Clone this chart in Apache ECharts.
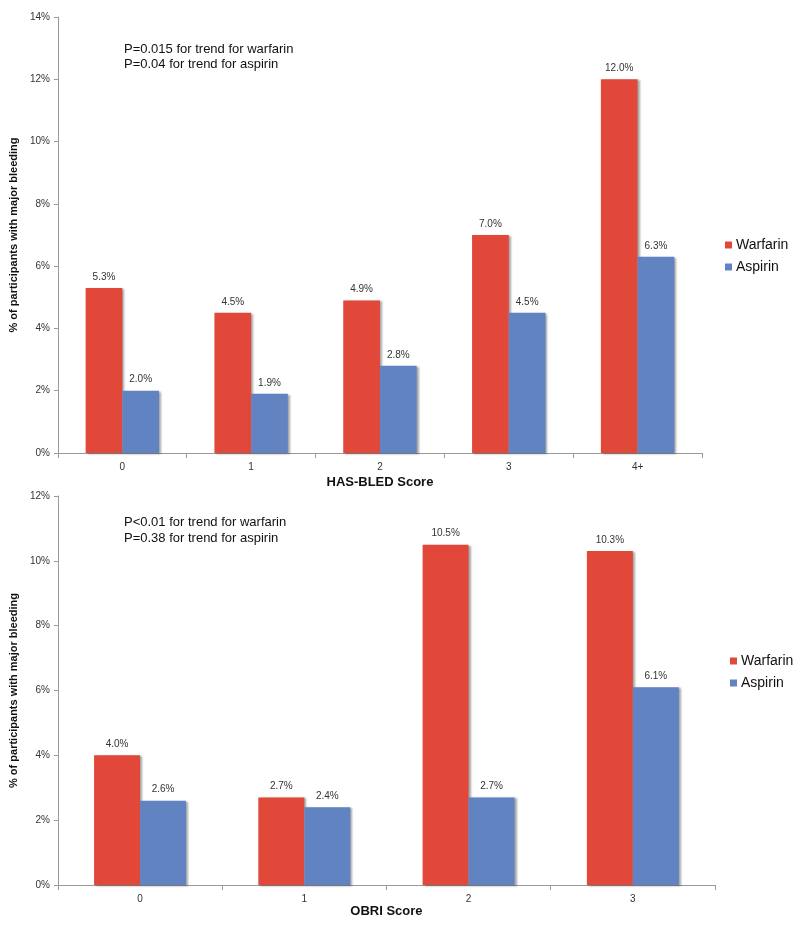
<!DOCTYPE html>
<html>
<head>
<meta charset="utf-8">
<script src="https://cdn.jsdelivr.net/npm/echarts@6/dist/echarts.min.js"></script>
<style>
  html, body { margin: 0; padding: 0; background: #fff; }
  #chart { width: 800px; height: 925px; }
</style>
</head>
<body>
<div id="chart"></div>
<script>
// top chart: HAS-BLED
var hasBledScores = ['0', '1', '2', '3', '4+'];
var hasBledWarfarin = [5.3, 4.5, 4.9, 7.0, 12.0];
var hasBledAspirin = [2.0, 1.9, 2.8, 4.5, 6.3];

// bottom chart: OBRI
var obriScores = ['0', '1', '2', '3'];
var obriWarfarin = [4.0, 2.7, 10.5, 10.3];
var obriAspirin = [2.6, 2.4, 2.7, 6.1];

var red = '#e2483a';
var blue = '#6283c1';
var fontFamily = 'Liberation Sans, Arial, sans-serif';

var barStyle = function (color) {
    return {
        color: color,
        shadowColor: 'rgba(0,0,0,0.35)',
        shadowBlur: 2,
        shadowOffsetX: 2,
        shadowOffsetY: 1
    };
};

var barLabel = {
    show: true,
    position: 'top',
    distance: 6,
    fontSize: 10,
    color: '#333',
    fontFamily: fontFamily,
    formatter: function (p) { return p.value.toFixed(1) + '%'; }
};

var yAxisBase = {
    type: 'value',
    min: 0,
    interval: 2,
    nameLocation: 'middle',
    nameGap: 33,
    name: '% of participants with major bleeding',
    nameTextStyle: { fontSize: 11, fontWeight: 'bold', color: '#111', fontFamily: fontFamily },
    axisLine: { show: true, lineStyle: { color: '#999' } },
    axisTick: { show: true, length: 4, lineStyle: { color: '#999' } },
    axisLabel: { fontSize: 10, color: '#333', fontFamily: fontFamily, formatter: '{value}%', margin: 8 },
    splitLine: { show: false }
};

var xAxisBase = {
    type: 'category',
    nameLocation: 'middle',
    nameTextStyle: { fontSize: 13, fontWeight: 'bold', color: '#111', fontFamily: fontFamily },
    axisLine: { lineStyle: { color: '#999' } },
    axisTick: { show: true, length: 5, lineStyle: { color: '#999' } },
    axisLabel: { fontSize: 10, color: '#333', fontFamily: fontFamily, margin: 9 }
};

var legendText = { fontSize: 14, color: '#111', fontFamily: fontFamily, padding: [0, 0, 0, -1] };

var option = {
    animation: false,
    backgroundColor: '#fff',
    grid: [
        { left: 57, top: 17, width: 645, height: 436 },
        { left: 55, top: 496, width: 660, height: 389 }
    ],
    xAxis: [
        Object.assign({}, xAxisBase, { gridIndex: 0, data: hasBledScores, name: 'HAS-BLED Score', nameGap: 23 }),
        Object.assign({}, xAxisBase, { gridIndex: 1, data: obriScores, name: 'OBRI Score', nameGap: 20 })
    ],
    yAxis: [
        Object.assign({}, yAxisBase, { gridIndex: 0, max: 14 }),
        Object.assign({}, yAxisBase, { gridIndex: 1, max: 12 })
    ],
    legend: [
        {
            data: ['Warfarin', 'Aspirin'],
            orient: 'vertical', left: 720, top: 233,
            itemWidth: 7, itemHeight: 7, itemGap: 8,
            icon: 'rect', textStyle: legendText
        },
        {
            data: ['Warfarin ', 'Aspirin '],
            orient: 'vertical', left: 725, top: 649,
            itemWidth: 7, itemHeight: 7, itemGap: 8,
            icon: 'rect', textStyle: legendText
        }
    ],
    series: [
        {
            name: 'Warfarin', type: 'bar', xAxisIndex: 0, yAxisIndex: 0,
            data: hasBledWarfarin, barGap: '0%', barCategoryGap: '43%',
            itemStyle: barStyle(red), label: barLabel
        },
        {
            name: 'Aspirin', type: 'bar', xAxisIndex: 0, yAxisIndex: 0,
            data: hasBledAspirin, barGap: '0%', barCategoryGap: '43%',
            itemStyle: barStyle(blue), label: barLabel
        },
        {
            name: 'Warfarin ', type: 'bar', xAxisIndex: 1, yAxisIndex: 1,
            data: obriWarfarin, barGap: '0%', barCategoryGap: '44%',
            itemStyle: barStyle(red), label: barLabel
        },
        {
            name: 'Aspirin ', type: 'bar', xAxisIndex: 1, yAxisIndex: 1,
            data: obriAspirin, barGap: '0%', barCategoryGap: '44%',
            itemStyle: barStyle(blue), label: barLabel
        }
    ],
    graphic: [
        {
            type: 'text', left: 124, top: 42,
            style: {
                text: 'P=0.015 for trend for warfarin\nP=0.04 for trend for aspirin',
                fontSize: 13, lineHeight: 15, fill: '#111', fontFamily: fontFamily
            }
        },
        {
            type: 'text', left: 124, top: 514,
            style: {
                text: 'P<0.01 for trend for warfarin\nP=0.38 for trend for aspirin',
                fontSize: 13, lineHeight: 16, fill: '#111', fontFamily: fontFamily
            }
        }
    ]
};

var myChart = echarts.init(document.getElementById('chart'));
myChart.setOption(option);
</script>
</body>
</html>
